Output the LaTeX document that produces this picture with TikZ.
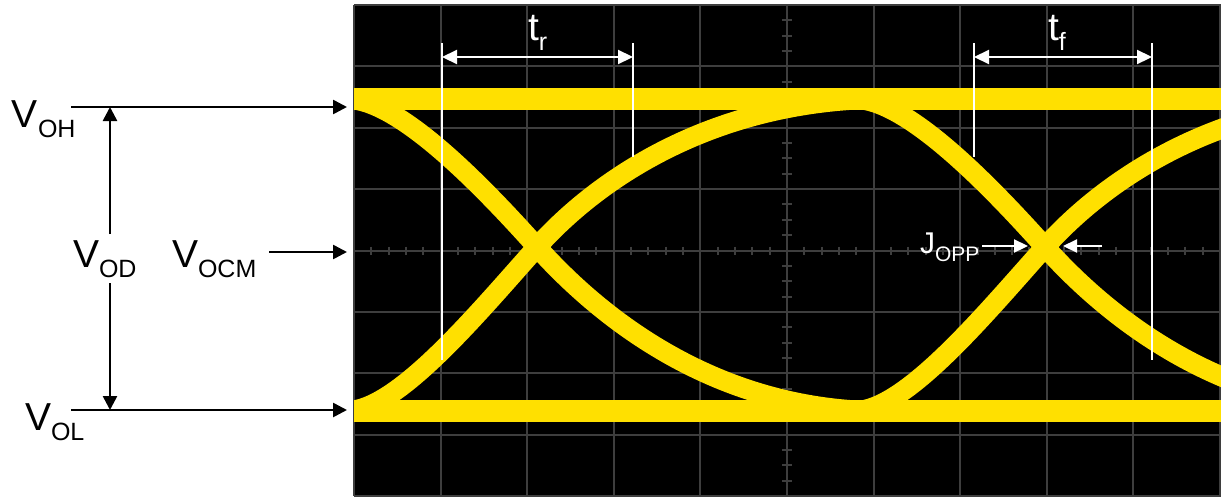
\documentclass[tikz,border=0pt]{standalone}
\usepackage{fontspec}
\setmainfont{Liberation Sans}
\usetikzlibrary{arrows.meta, calc, positioning}
\definecolor{traceyellow}{RGB}{255,224,0}
\definecolor{gridgray}{RGB}{62,62,62}
\newcommand{\vsub}[2]{#1\raisebox{-10pt}{\fontsize{25}{25}\selectfont #2}}

\begin{document}
\begin{tikzpicture}[
    x=1pt, y=-1pt,
    lbl/.style   = {font=\fontsize{39}{39}\selectfont, inner sep=0pt, outer sep=0pt, anchor=base west},
    wlbl/.style  = {lbl, text=white},
    arr/.style   = {-{Triangle[length=14pt, width=14pt]}, line width=2.6pt, black},
    darr/.style  = {arr, shorten <=6pt},
    warr/.style  = {{Triangle[length=15pt, width=14pt]}-{Triangle[length=15pt, width=14pt]}, line width=2.2pt, white},
    jarr/.style  = {-{Triangle[length=14pt, width=13pt]}, line width=2.2pt, white},
    wline/.style = {line width=2pt, white},
    gridline/.style = {line width=2pt, gridgray},
    band/.style  = {line width=22pt, traceyellow},
    edge/.style  = {line width=20pt, traceyellow},
]
\useasboundingbox (0,0) rectangle (1221,496);

% ---------------- scope screen ----------------
\node[fill=black, minimum width=867pt, minimum height=491pt, inner sep=0pt, anchor=north west] (scr) at (354,5) {};
\foreach \i in {0,...,10}
    \draw[gridline] ({354+86.6*\i},5) -- ({354+86.6*\i},496);
\foreach \j in {0,...,8}
    \draw[gridline] (354,{5+61.375*\j}) -- (1221,{5+61.375*\j});
\foreach \j in {0,...,32}
    \draw[gridline] (782,{5+15.344*\j}) -- (792,{5+15.344*\j});
\foreach \i in {0,...,50}
    \draw[gridline] ({354+17.32*\i},246.5) -- ({354+17.32*\i},254.5);

% ---------------- eye traces ----------------
\begin{scope}
\clip (scr.north west) rectangle (scr.south east);
\draw[band] (354,99) -- (1221,99);
\draw[band] (354,411) -- (1221,411);
\foreach \cx in {29,537,1045} {
    \draw[edge] ({\cx-190},99) .. controls ({\cx-140},99) and ({\cx-60},180) .. (\cx,247)
        .. controls ({\cx+60},314) and ({\cx+170},405) .. ({\cx+330},411);
    \draw[edge] ({\cx-190},411) .. controls ({\cx-140},411) and ({\cx-60},314) .. (\cx,247)
        .. controls ({\cx+60},180) and ({\cx+170},105) .. ({\cx+330},99);
}
\end{scope}

% ---------------- rise / fall times ----------------
\coordinate (trl) at (442,43);
\coordinate (trr) at (633,43);
\coordinate (tfl) at (974,43);
\coordinate (tfr) at (1152,43);
\draw[wline] (trl) -- ++(0,317);
\draw[wline] (trr) -- ++(0,114);
\draw[wline] (tfl) -- ++(0,114);
\draw[wline] (tfr) -- ++(0,317);
\draw[warr] ($(trl)+(0,14)$) -- ($(trr)+(0,14)$);
\draw[warr] ($(tfl)+(0,14)$) -- ($(tfr)+(0,14)$);
\node[wlbl] (tr) at (528,40) {\vsub{t}{r}};
\node[wlbl] (tf) at (1048,40) {\vsub{t}{f}};

% ---------------- jitter ----------------
\node[wlbl, font=\fontsize{30}{30}\selectfont] (jopp) at (920,253) {J\raisebox{-8pt}{\fontsize{21}{21}\selectfont OPP}};
\coordinate (jtipl) at (1028,246);
\coordinate (jtipr) at (1063,246);
\coordinate (jend) at (1102,246);
\draw[jarr] ([xshift=3pt]jopp.east |- jtipl) -- (jtipl);
\draw[jarr] (jend) -- (jtipr);

% ---------------- output levels ----------------
\node[lbl] (voh) at (12,127) {\vsub{V}{OH}};
\node[lbl] (vol) at (25,430) {\vsub{V}{OL}};
\node[lbl] (vod) at (73,267) {\vsub{V}{OD}};
\node[lbl] (vocm) at (172,267) {\vsub{V}{OCM}};
\coordinate (ohl) at (71,107);
\coordinate (oll) at (71,410);
\coordinate (odt) at (110,107);
\coordinate (odb) at (110,410);
\coordinate (ocm) at (269,252);
\draw[arr, shorten >=7pt] (ohl) -- (ohl -| scr.west);
\draw[arr, shorten >=7pt] (oll) -- (oll -| scr.west);
\draw[arr, shorten >=7pt] (ocm) -- (ocm -| scr.west);
\draw[darr] (odt |- vod.north) -- (odt);
\draw[darr] (odb |- vod.south) -- (odb);

\end{tikzpicture}
\end{document}
